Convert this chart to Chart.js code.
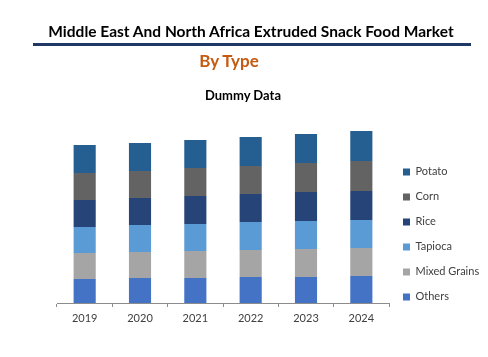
<!DOCTYPE html>
<html><head><meta charset="utf-8">
<script src="https://cdn.jsdelivr.net/npm/chart.js@4"></script>
<style>
html,body{margin:0;padding:0;background:#fff;width:488px;height:357px;overflow:hidden;font-family:Lato,sans-serif}
#wrap{position:relative;width:488px;height:357px}
#c{position:absolute;left:0;top:0}
.h{position:absolute;text-align:center;white-space:nowrap;font-weight:bold;line-height:1}
#t1{left:7px;width:488px;top:24px;font-size:15.5px;color:#000}
#rule{position:absolute;left:33px;top:43px;width:438px;height:3px;background:#203864}
#t2{left:-15px;width:488px;top:52px;font-size:17px;color:#C55A11}
#t3{left:-1px;width:488px;top:89px;font-size:13px;color:#000}
</style></head>
<body><div id="wrap">
<canvas id="c" width="488" height="357"></canvas>
<div class="h" id="t1">Middle East And North Africa Extruded Snack Food Market</div>
<div id="rule"></div>
<div class="h" id="t2">By Type</div>
<div class="h" id="t3">Dummy Data</div>
</div>
<script>
const categories = ['2019','2020','2021','2022','2023','2024'];
const others      = [24,25,25,26,26,27];
const mixedGrains = [26,26,27,27,28,28];
const tapioca     = [26,27,27,28,28,28];
const rice        = [27,27,28,28,29,29];
const corn        = [27,27,28,28,29,30];
const potato      = [28,28,28,29,29,30];

const series = [
  {label:'Others', data:others, color:'#4472C4'},
  {label:'Mixed Grains', data:mixedGrains, color:'#A5A5A5'},
  {label:'Tapioca', data:tapioca, color:'#5B9BD5'},
  {label:'Rice', data:rice, color:'#264478'},
  {label:'Corn', data:corn, color:'#636363'},
  {label:'Potato', data:potato, color:'#255E91'}
];

new Chart(document.getElementById('c'), {
  type:'bar',
  data:{
    labels:categories,
    datasets:series.map(s=>({label:s.label,data:s.data,backgroundColor:s.color,borderWidth:0,barPercentage:0.4,categoryPercentage:1}))
  },
  options:{
    responsive:false,
    animation:false,
    devicePixelRatio:1,
    layout:{padding:{top:111,bottom:26.8,left:57,right:0}},
    scales:{
      x:{stacked:true,
         grid:{display:true,drawOnChartArea:false,drawTicks:true,tickLength:4,color:'#8c8c8c'},
         border:{display:true,color:'#8c8c8c'},
         ticks:{color:'#404040',font:{family:'Lato',size:11},padding:5}},
      y:{stacked:true,display:false,min:0,max:192}
    },
    plugins:{
      tooltip:{enabled:false},
      legend:{
        position:'right',align:'start',reverse:true,fullSize:true,maxWidth:99,
        title:{display:true,text:' ',padding:{top:27,bottom:0},font:{size:12}},
        labels:{boxWidth:7,boxHeight:7,padding:14,color:'#404040',font:{family:'Lato',size:11}}
      }
    }
  }
});
</script>
</body></html>
